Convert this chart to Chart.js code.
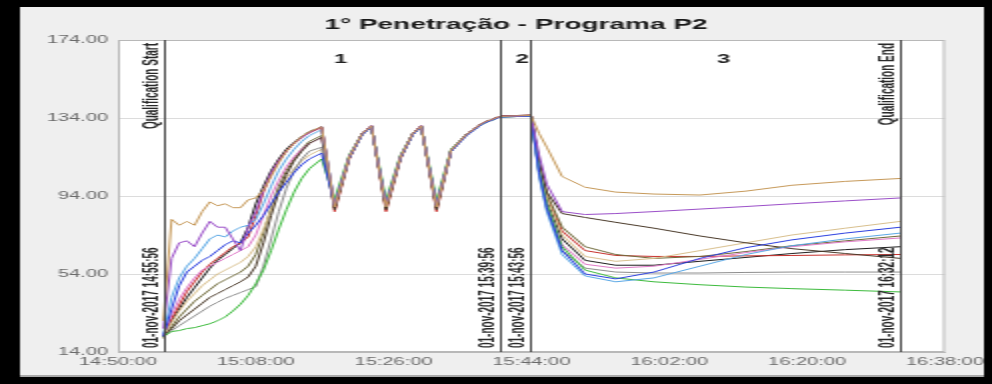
<!DOCTYPE html>
<html>
<head>
<meta charset="utf-8">
<script src="https://cdn.jsdelivr.net/npm/chart.js@4.4.1/dist/chart.umd.min.js"></script>
<style>
  html, body { margin: 0; padding: 0; background: #000; overflow: hidden; }
  /* the reference is a screenshot stretched 2x horizontally */
  #wrap { position: absolute; left: 0; top: 0; width: 496px; height: 384px; transform: scale(2, 1); transform-origin: 0 0; }
</style>
</head>
<body>
<div id="wrap"><canvas id="chart"></canvas></div>
<script>
const title = '1° Penetração - Programa P2';
const startClock = '14:50:00';
const xTickStep = 18; // minutes
const xTickEnd = '16:38:00';
const yTicks = [14, 54, 94, 134, 174];

const times = ['14:55:56','14:57:00','14:58:00','14:59:00','15:00:00','15:01:00','15:02:00','15:03:00','15:04:00','15:05:00',
  '15:06:00','15:07:00','15:08:00','15:09:00','15:10:00','15:11:00','15:12:00','15:13:00','15:14:00','15:15:00',
  '15:16:36','15:18:18','15:20:12','15:21:54','15:23:06','15:25:00','15:26:54','15:28:30','15:29:36','15:31:36',
  '15:33:30','15:35:30','15:37:36','15:39:56','15:43:56','15:45:00','15:46:00','15:48:00','15:51:00','15:55:00',
  '16:00:00','16:06:00','16:12:00','16:18:00','16:25:00','16:32:12'];

const probeNames = ['T1','T2','T3','T4','T5','T6','T7','T8','T9','T10','T11','T12'];
const probeColors = ['#c79a5a','#9b4fc9','#2b3fe0','#5aa8e6','#3dbb3d','#8e8e8e','#4a3a2a','#d9c08e','#e07ac8','#6f6a3a','#c8322e','#1e1e1e'];

const t1 = [30,82,79,81,79,86,91,89,90,88,88,92,93,97,104,111,117,121,124.5,127,
  129.5,88.5,114,126,129.8,88.5,114,126,129.8,88.5,117.5,125.5,131.5,134.8,135.3,
  126,119,104,98.5,96,95,94.5,96.5,99.5,101.5,103];
const t2 = [26,62,70,71,68,75,81,78,78,72,66,78,86,97,106,112,117,121,124,126.5,
  129.5,89,114.5,126,130,89,114.5,126,130,89,117.5,125.5,131.5,134.8,135.3,
  115,100,86,84.5,85,86,87.3,88.6,90,91.5,93];
const t3 = [22,36,48,55,58,61,63,66,69,71,70,75,79,84,90,96,101,106,110,113,
  116,89.5,113.5,125.5,129.5,89.5,113.5,125.5,129.5,89.5,117,125,131,134.5,135,
  106,88,66,54,51.5,55,62,67.5,71.5,75,78];
const t4 = [23,42,52,58,62,67,72,74,73,76,78,79,82,90,99,107,113,118,122,125,
  128,90,114,125.5,129.5,90,114,125.5,129.5,90,117,125,131,134.5,135,
  104,86,64,53,50,52,58,64,68.5,72,75];
const t5 = [22,24.5,25,26,26.5,27.5,28.5,30,32,35,38.5,43,49,56,66,77,87,96,103,108,
  113,92.5,115,126,129.5,92,115,126,129.5,92,118,125.5,131,134.5,135,
  107,90,68,56,52,50,48.5,47.3,46.5,45.7,44.8];
const t6 = [22,25,27.5,30,32.5,35,37.5,39.5,41.5,43,44.5,46,47.5,58,72,86,98,107,113,117,
  119,88.5,114,125.5,129.5,88.5,114,125.5,129.5,88.5,117,125.5,131,134.5,135,
  105,87,66,57,55,54.5,54.5,54.8,55,55,55];
const t7 = [22,26,30,33,36,39,42,44,46,48,50,52.5,58,70,84,96,105,112,117,121,
  124,87,113.5,126,129.8,87,113.5,126,129.8,87,117,125.5,131.5,134.8,135.3,
  112,96,85,83,80.5,77.5,73.5,70,67,64.5,62];
const t8 = [22,29,35,40,44,48,51,54,56,58,60,63,68,77,87,96,103,108,112,115,
  118,90.5,114.5,125.5,129.5,90.5,114.5,125.5,129.5,90.5,117.5,125,131,134.5,135,
  109,93,74,63,60.5,62,66,70,74,77.5,81];
const t9 = [23,33,41,47,52,56,58,60,62,64,66,68,74,84,94,102,109,114,118,121,
  124,89,114,126,129.8,89,114,126,129.8,89,117.5,125.5,131.5,134.8,135.3,
  106,89,69,59,57,58,61.5,65,68,70.5,72.5];
const t10 = [21,27,32,36,40,43,46,49,51,53,55,58,64,75,88,99,107,113,118,122,
  125,88,114,126,129.8,88,114,126,129.8,88,117.5,125.5,131.5,134.8,135.3,
  111,95,78,68,64,62,63,65.5,68.5,71,73.5];
const t11 = [22,31,38,45,50,55,59,62,65,68,70,73,84,96,105,112,117,121,124,126.5,
  129,86,113,126,130,86,113,126,130,86,117,125.5,131.5,135,135.5,
  110,94,76,66,63.5,63,63,63.3,63.5,63.8,64];
const t12 = [22,30,36,42,47,52,57,61,64,67,70,78,90,99,107,113,118,121.5,124.5,127,
  129.5,88,114,126,130,88,114,126,130,88,117.5,125.5,131.5,135,135.5,
  108,92,72,61,58.5,58.5,60.5,62.5,64.5,66.5,68];
const probeValues = [t1,t2,t3,t4,t5,t6,t7,t8,t9,t10,t11,t12];

const markerTimes = ['14:55:56','15:39:56','15:43:56','16:32:12'];
const markerTop = ['Qualification Start','','','Qualification End'];
const markerDate = ['01-nov-2017 14:55:56','01-nov-2017 15:39:56','01-nov-2017 15:43:56','01-nov-2017 16:32:12'];
const phaseNames = ['1','2','3'];
const phaseTimes = ['15:19:06','15:42:48','16:09:06'];

function clockToSec(t) {
  const [h, m, s] = t.split(':').map(Number);
  return h * 3600 + m * 60 + s;
}
const t0 = clockToSec(startClock);
const toMin = t => (clockToSec(t) - t0) / 60;
function minToClock(v) {
  const total = Math.round(v * 60) + t0;
  const pad = n => String(n).padStart(2, '0');
  return pad(Math.floor(total / 3600)) + ':' + pad(Math.floor(total / 60) % 60) + ':' + pad(total % 60);
}

const xs = times.map(toMin);
const datasets = probeNames.map((name, i) => ({
  label: name,
  data: probeValues[i].map((v, j) => ({ x: xs[j], y: v })),
  borderColor: probeColors[i],
  borderWidth: 1,
  pointRadius: 0,
  fill: false,
  tension: 0
}));

const FONT = '"Liberation Sans", Arial, sans-serif';

const decorations = {
  id: 'decorations',
  beforeDraw(chart) {
    const { ctx, chartArea: a, width, height } = chart;
    ctx.save();
    ctx.fillStyle = '#000';
    ctx.fillRect(0, 0, width, height);
    ctx.fillStyle = '#efefef';
    ctx.fillRect(10, 7, 482, 369);
    ctx.fillStyle = '#a9a9a9';
    ctx.fillRect(10, 375, 482, 2);
    ctx.fillStyle = '#fff';
    ctx.fillRect(a.left, a.top, a.right - a.left, a.bottom - a.top);
    ctx.restore();
  },
  afterDatasetsDraw(chart) {
    const { ctx, chartArea: a } = chart;
    const x = chart.scales.x;
    ctx.save();

    // plot frame
    ctx.strokeStyle = '#b8b8b8';
    ctx.lineWidth = 1;
    ctx.strokeRect(a.left + 0.5, a.top + 0.5, a.right - a.left - 1, a.bottom - a.top - 1);

    // qualification / phase markers
    markerTimes.forEach((t, i) => {
      const px = Math.round(x.getPixelForValue(toMin(t))) + 0.5;
      ctx.strokeStyle = '#4a4a4a';
      ctx.lineWidth = 1;
      ctx.beginPath();
      ctx.moveTo(px, a.top);
      ctx.lineTo(px, a.bottom);
      ctx.stroke();

      ctx.fillStyle = '#2a2a2a';
      ctx.font = 'bold 10px ' + FONT;
      ctx.textBaseline = 'bottom';
      if (markerTop[i]) {
        ctx.save();
        ctx.translate(px - 1, a.top + 3);
        ctx.rotate(-Math.PI / 2);
        ctx.textAlign = 'right';
        ctx.fillText(markerTop[i], 0, 0);
        ctx.restore();
      }
      ctx.save();
      ctx.translate(px - 1, a.bottom - 4);
      ctx.rotate(-Math.PI / 2);
      ctx.textAlign = 'left';
      ctx.fillText(markerDate[i], 0, 0);
      ctx.restore();
    });

    ctx.fillStyle = '#222';
    ctx.font = 'bold 12px ' + FONT;
    ctx.textAlign = 'center';
    ctx.textBaseline = 'middle';
    phaseNames.forEach((p, i) => {
      ctx.fillText(p, x.getPixelForValue(toMin(phaseTimes[i])), a.top + 20);
    });

    // title
    ctx.fillStyle = '#1a1a1a';
    ctx.font = 'bold 14px ' + FONT;
    ctx.fillText(title, 258, 25);
    ctx.restore();
  }
};

const ctx = document.getElementById('chart').getContext('2d');
const chart = new Chart(ctx, {
  type: 'line',
  data: { datasets },
  options: {
    responsive: true,
    maintainAspectRatio: false,
    animation: false,
    parsing: false,
    layout: { padding: { left: 11, right: 23.5, top: 40, bottom: 12 } },
    plugins: {
      legend: { display: false },
      title: { display: false },
      tooltip: { enabled: false }
    },
    scales: {
      x: {
        type: 'linear',
        min: 0,
        max: toMin(xTickEnd),
        grid: { display: false, drawTicks: false },
        border: { display: true, color: '#b8b8b8' },
        ticks: {
          stepSize: xTickStep,
          autoSkip: false,
          maxRotation: 0,
          padding: 4,
          color: '#6a6a6a',
          font: { family: FONT, size: 10 },
          callback: v => minToClock(v)
        },
        afterFit: s => { s.height = 20; }
      },
      y: {
        min: yTicks[0],
        max: yTicks[yTicks.length - 1],
        grid: { color: '#dcdcdc', drawTicks: false },
        border: { display: true, color: '#b8b8b8' },
        ticks: {
          stepSize: yTicks[1] - yTicks[0],
          padding: 5,
          color: '#6a6a6a',
          font: { family: FONT, size: 10 },
          callback: v => v.toFixed(2)
        },
        afterFit: s => { s.width = 48; }
      }
    }
  },
  plugins: [decorations]
});
</script>
</body>
</html>
